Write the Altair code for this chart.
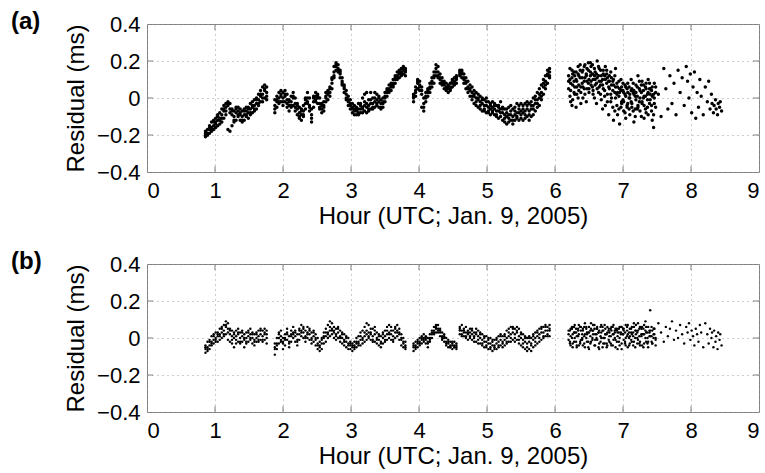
import altair as alt
import pandas as pd

# ---------------- time samples (hour, UTC) ----------------
t_seg1 = [0.86, 0.89, 0.92, 0.95, 0.98, 1.01, 1.04, 1.07, 1.10, 1.13, 1.16, 1.19, 1.22, 1.25, 1.28, 1.31,
          1.34, 1.37, 1.40, 1.43, 1.46, 1.49, 1.52, 1.55, 1.58, 1.61, 1.64, 1.67, 1.70, 1.73, 1.76]
t_seg2 = [1.88, 1.91, 1.94, 1.97, 2.00, 2.03, 2.06, 2.09, 2.12, 2.15, 2.18, 2.21, 2.24, 2.27, 2.30, 2.33,
          2.36, 2.39, 2.42, 2.45, 2.48, 2.51, 2.54, 2.57, 2.60,
          2.63, 2.66, 2.69, 2.72, 2.75, 2.78, 2.81, 2.84, 2.87, 2.90, 2.93, 2.96, 2.99, 3.02, 3.05, 3.08,
          3.11, 3.14, 3.17, 3.20,
          3.23, 3.26, 3.29, 3.32, 3.35, 3.38, 3.41, 3.44, 3.47, 3.50, 3.53, 3.56, 3.59, 3.62, 3.65, 3.68,
          3.71, 3.74, 3.77, 3.80]
t_seg3 = [3.92, 3.95, 3.98, 4.01, 4.04, 4.07, 4.10, 4.13, 4.16, 4.19, 4.22, 4.25, 4.28, 4.31, 4.34, 4.37,
          4.40, 4.43, 4.46, 4.49, 4.52, 4.55]
t_seg4 = [4.60, 4.63, 4.66, 4.69, 4.72, 4.75, 4.78, 4.81, 4.84, 4.87, 4.90, 4.93, 4.96, 4.99, 5.02,
          5.05, 5.08, 5.11, 5.14, 5.17, 5.20, 5.23, 5.26, 5.29, 5.32, 5.35, 5.38, 5.41, 5.44, 5.47,
          5.50, 5.53, 5.56, 5.59, 5.62, 5.65, 5.68, 5.71, 5.74, 5.77, 5.80, 5.83, 5.86, 5.89, 5.92]
t_scat = [6.20, 6.22, 6.23, 6.25, 6.26, 6.28, 6.29, 6.31, 6.32, 6.34, 6.35, 6.37, 6.38,
          6.40, 6.41, 6.43, 6.44, 6.46, 6.47, 6.49, 6.50, 6.52, 6.53, 6.55, 6.56, 6.58, 6.59,
          6.61, 6.62, 6.64, 6.65, 6.67, 6.68, 6.70, 6.71, 6.73, 6.74, 6.76, 6.77, 6.79,
          6.80, 6.82, 6.83, 6.85, 6.86, 6.88, 6.89, 6.91, 6.92, 6.94, 6.95, 6.97, 6.98,
          7.00, 7.01, 7.03, 7.04, 7.06, 7.07, 7.09, 7.10, 7.12, 7.13, 7.15, 7.16, 7.18, 7.19,
          7.21, 7.22, 7.24, 7.25, 7.27, 7.28, 7.30, 7.31, 7.33, 7.34, 7.36, 7.37, 7.39,
          7.40, 7.42, 7.43, 7.45, 7.46, 7.48]
t_sparse = [7.52, 7.56, 7.60, 7.63, 7.66, 7.69, 7.72, 7.75, 7.78, 7.81,
            7.84, 7.87, 7.90, 7.93, 7.95, 7.97, 7.99, 8.01, 8.03, 8.05,
            8.07, 8.09, 8.11, 8.13, 8.15, 8.18, 8.21, 8.24, 8.26, 8.28,
            8.30, 8.31, 8.33, 8.34, 8.36, 8.37, 8.39, 8.40, 8.42, 8.43, 8.45]

# ---------------- panel (a) residuals (ms) ----------------
a1_mid = [-0.20, -0.19, -0.17, -0.16, -0.15, -0.13, -0.12, -0.11, -0.09, -0.07, -0.05, -0.04, -0.06, -0.09, -0.10, -0.08,
          -0.07, -0.09, -0.10, -0.09, -0.07, -0.08, -0.06, -0.05, -0.04, -0.03, -0.01, 0.01, 0.02, 0.04, 0.03]
a1_hi = [-0.18, -0.17, -0.15, -0.13, -0.12, -0.11, -0.09, -0.08, -0.06, -0.04, -0.03, -0.02, -0.03, -0.06, -0.07, -0.05,
         -0.05, -0.06, -0.07, -0.06, -0.05, -0.05, -0.03, -0.02, -0.01, 0.00, 0.02, 0.04, 0.06, 0.07, 0.06]
a1_lo = [-0.21, -0.20, -0.19, -0.18, -0.17, -0.16, -0.15, -0.14, -0.13, -0.11, -0.09, -0.17, -0.18, -0.15, -0.13, -0.12,
         -0.10, -0.12, -0.13, -0.12, -0.10, -0.11, -0.09, -0.08, -0.07, -0.06, -0.04, -0.02, -0.02, 0.00, -0.01]
a1_x = [-0.19, -0.20, -0.16, -0.17, -0.13, -0.14, -0.10, -0.12, -0.11, -0.06, -0.07, -0.03, -0.08, -0.07, -0.12, -0.06,
        -0.09, -0.08, -0.12, -0.07, -0.09, -0.06, -0.08, -0.04, -0.06, -0.01, -0.03, 0.02, 0.00, 0.05, 0.01]

a2_mid = [-0.04, -0.02, 0.00, 0.01, 0.00, 0.02, -0.01, -0.04, -0.02, 0.00, -0.03, -0.06, -0.08, -0.09, -0.07, -0.03,
          0.00, -0.04, -0.09, -0.02, 0.01, 0.00, -0.03, -0.06, -0.04,
          0.01, 0.02, 0.03, 0.08, 0.14, 0.17, 0.16, 0.13, 0.09, 0.05, 0.02, -0.01, -0.03, -0.05, -0.06, -0.07,
          -0.06, -0.06, -0.05, -0.04,
          -0.05, -0.04, -0.03, -0.03, -0.02, -0.01, -0.02, -0.03, -0.02, 0.01, 0.03, 0.05, 0.06, 0.08, 0.10, 0.12,
          0.13, 0.14, 0.15, 0.14]
a2_hi = [-0.01, 0.01, 0.03, 0.04, 0.03, 0.04, 0.02, -0.01, 0.01, 0.03, 0.00, -0.03, -0.05, -0.06, -0.04, 0.00,
         0.03, 0.00, -0.06, 0.01, 0.03, 0.02, 0.00, -0.03, -0.02,
         0.03, 0.04, 0.06, 0.11, 0.17, 0.19, 0.18, 0.15, 0.11, 0.07, 0.04, 0.01, -0.01, -0.03, -0.04, -0.05,
         -0.03, -0.03, 0.00, 0.02,
         0.03, -0.01, 0.03, 0.00, 0.03, 0.02, 0.01, -0.01, 0.00, 0.03, 0.05, 0.07, 0.08, 0.10, 0.12, 0.14,
         0.15, 0.16, 0.17, 0.16]
a2_lo = [-0.08, -0.05, -0.03, -0.02, -0.04, -0.02, -0.05, -0.07, -0.05, -0.04, -0.07, -0.09, -0.11, -0.12, -0.10, -0.06,
         -0.03, -0.07, -0.13, -0.05, -0.02, -0.03, -0.06, -0.08, -0.07,
         -0.02, -0.01, 0.01, 0.05, 0.11, 0.15, 0.14, 0.11, 0.07, 0.03, -0.01, -0.04, -0.06, -0.08, -0.09, -0.09,
         -0.09, -0.08, -0.08, -0.07,
         -0.08, -0.07, -0.06, -0.06, -0.05, -0.04, -0.05, -0.06, -0.05, -0.02, 0.01, 0.03, 0.04, 0.06, 0.08, 0.10,
         0.11, 0.12, 0.13, 0.12]
a2_x = [-0.06, -0.01, -0.02, 0.02, -0.02, 0.01, -0.03, -0.02, -0.04, 0.01, -0.05, -0.04, -0.10, -0.07, -0.09, -0.01,
        -0.02, -0.05, -0.11, 0.00, -0.01, 0.01, -0.05, -0.04, -0.05,
        0.00, 0.03, 0.05, 0.10, 0.12, 0.18, 0.15, 0.14, 0.08, 0.06, 0.00, -0.02, -0.04, -0.06, -0.07, -0.06,
        -0.08, -0.04, -0.06, -0.02,
        -0.03, -0.06, -0.01, -0.05, 0.00, -0.03, 0.00, -0.05, -0.03, 0.00, 0.04, 0.04, 0.07, 0.07, 0.11, 0.11,
        0.14, 0.13, 0.16, 0.15]

a3_mid = [0.00, 0.04, 0.08, 0.07, 0.04, -0.03, 0.01, 0.03, 0.06, 0.08, 0.11, 0.14, 0.14, 0.10, 0.09, 0.07,
          0.06, 0.05, 0.06, 0.08, 0.09, 0.10]
a3_hi = [0.02, 0.06, 0.10, 0.09, 0.06, 0.00, 0.03, 0.05, 0.08, 0.11, 0.14, 0.18, 0.17, 0.13, 0.11, 0.09,
         0.08, 0.07, 0.08, 0.10, 0.11, 0.12]
a3_lo = [-0.02, 0.01, 0.05, 0.04, -0.05, -0.07, -0.02, 0.01, 0.03, 0.06, 0.08, 0.12, 0.11, 0.08, 0.07, 0.05,
         0.04, 0.03, 0.04, 0.06, 0.07, 0.08]
a3_x = [0.01, 0.03, 0.09, 0.06, 0.02, -0.05, 0.00, 0.04, 0.05, 0.09, 0.12, 0.16, 0.12, 0.11, 0.08, 0.08,
        0.05, 0.06, 0.05, 0.09, 0.08, 0.11]

a4_mid = [0.14, 0.13, 0.11, 0.08, 0.06, 0.04, 0.03, 0.01, 0.00, -0.01, -0.02, -0.03, -0.04, -0.04, -0.05,
          -0.06, -0.05, -0.06, -0.07, -0.07, -0.06, -0.08, -0.09, -0.10, -0.09, -0.09, -0.10, -0.09, -0.08, -0.08,
          -0.07, -0.08, -0.07, -0.06, -0.07, -0.06, -0.04, -0.03, -0.01, 0.00, 0.03, 0.06, 0.09, 0.12, 0.14]
a4_hi = [0.15, 0.15, 0.13, 0.11, 0.09, 0.07, 0.06, 0.04, 0.03, 0.02, 0.01, 0.00, -0.01, 0.00, -0.02,
         -0.03, -0.02, -0.03, -0.04, -0.04, -0.02, -0.05, -0.06, -0.06, -0.05, -0.04, -0.06, -0.05, -0.03, -0.04,
         -0.03, -0.04, -0.03, -0.02, -0.03, -0.02, 0.00, 0.01, 0.03, 0.05, 0.07, 0.10, 0.12, 0.15, 0.16]
a4_lo = [0.12, 0.11, 0.08, 0.05, 0.03, 0.01, -0.01, -0.03, -0.04, -0.05, -0.06, -0.07, -0.07, -0.08, -0.08,
         -0.09, -0.08, -0.09, -0.10, -0.11, -0.10, -0.12, -0.13, -0.14, -0.13, -0.12, -0.14, -0.12, -0.11, -0.12,
         -0.11, -0.12, -0.11, -0.10, -0.12, -0.10, -0.09, -0.07, -0.05, -0.04, -0.01, 0.02, 0.05, 0.08, 0.11]
a4_x = [0.13, 0.14, 0.10, 0.09, 0.05, 0.05, 0.01, 0.02, -0.02, 0.00, -0.04, -0.01, -0.06, -0.02, -0.07,
        -0.04, -0.07, -0.04, -0.09, -0.05, -0.08, -0.06, -0.11, -0.08, -0.11, -0.07, -0.12, -0.07, -0.10, -0.06,
        -0.09, -0.06, -0.09, -0.04, -0.09, -0.04, -0.06, -0.01, -0.03, 0.02, 0.01, 0.08, 0.07, 0.13, 0.12]

a_scat1 = [0.05, 0.10, -0.02, 0.15, 0.07, 0.03, 0.12, -0.05, 0.09, 0.17, 0.04, 0.11, 0.06,
           0.14, 0.00, 0.09, 0.18, 0.12, 0.05, 0.15, 0.10, 0.19, 0.07, 0.13, 0.02, 0.16, 0.10,
           -0.03, 0.20, 0.12, 0.06, 0.15, 0.09, -0.06, 0.13, 0.04, 0.17, 0.08, 0.11, -0.09,
           0.05, 0.14, 0.00, 0.09, -0.12, 0.03, 0.16, -0.04, 0.06, 0.01, -0.14, 0.04, -0.02,
           0.08, -0.07, 0.02, -0.11, 0.05, -0.03, 0.00, -0.09, 0.10, -0.05, 0.03, -0.13, 0.01, 0.07,
           -0.06, 0.12, -0.02, 0.04, -0.10, 0.09, 0.00, -0.04, 0.06, -0.08, 0.02, 0.10, -0.03,
           0.05, -0.07, 0.01, -0.16, 0.08, -0.05]
a_scat2 = [0.12, 0.01, 0.08, -0.04, 0.13, 0.09, 0.02, 0.14, 0.06, 0.00, 0.12, 0.18, 0.03,
           0.08, 0.15, 0.05, 0.11, -0.02, 0.16, 0.08, 0.03, 0.12, 0.17, 0.06, 0.10, 0.00, 0.14,
           0.08, 0.11, 0.03, 0.16, 0.07, -0.01, 0.10, 0.05, 0.12, -0.04, 0.15, 0.02, 0.09,
           0.12, -0.02, 0.07, 0.04, 0.10, -0.07, 0.06, 0.02, -0.09, 0.09, 0.03, -0.05, 0.06,
           -0.01, 0.03, -0.08, 0.06, -0.04, 0.08, -0.06, 0.02, -0.02, 0.05, -0.07, 0.04, -0.10, -0.01,
           0.06, -0.04, 0.09, -0.07, 0.03, -0.02, 0.07, -0.11, 0.01, 0.05, -0.05, -0.09, 0.08,
           -0.01, 0.04, -0.12, 0.02, -0.03, 0.06]
a_scat3 = [0.09, 0.16, 0.04, 0.11, -0.01, 0.14, 0.06, 0.10, 0.02, 0.13, 0.07, 0.15, -0.03,
           0.11, 0.06, 0.17, 0.02, 0.13, 0.09, 0.19, 0.05, 0.14, 0.09, 0.18, 0.04, 0.12, 0.07,
           0.13, 0.05, 0.17, 0.09, 0.02, 0.12, 0.07, 0.15, 0.01, 0.10, 0.13, -0.02, 0.06,
           0.09, 0.02, 0.11, -0.05, 0.07, 0.12, 0.00, 0.08, 0.03, -0.06, 0.05, 0.10, -0.03,
           0.04, -0.02, 0.07, 0.01, -0.05, 0.03, 0.06, 0.00, 0.04, -0.03, 0.08, 0.02, -0.06, 0.03,
           0.01, -0.05, 0.05, 0.00, 0.07, -0.03, 0.04, 0.01, -0.06, 0.08, -0.01, 0.03, 0.05,
           0.02, -0.04, 0.06, -0.09, 0.00, 0.03]
a_sparse = [0.02, -0.10, 0.16, 0.05, -0.06, 0.12, -0.03, 0.08, -0.09, 0.15,
            0.03, 0.11, -0.04, 0.17, 0.09, 0.00, 0.13, -0.08, 0.06, 0.14,
            -0.11, 0.03, -0.05, 0.10, 0.01, -0.09, 0.06, -0.02, 0.09, -0.06,
            0.02, -0.03, -0.08, -0.04, -0.01, -0.06, -0.09, -0.03, -0.05, -0.02, -0.07]

# ---------------- panel (b) residuals (ms) ----------------
b1_mid = [-0.06, -0.05, -0.04, -0.02, -0.01, 0.00, 0.01, 0.02, 0.03, 0.04, 0.06, 0.05, 0.02, 0.01, 0.00, 0.01,
          0.02, 0.00, 0.01, -0.01, 0.00, 0.01, 0.02, 0.00, -0.01, 0.00, 0.01, 0.02, 0.01, 0.02, 0.00]
b1_hi = [-0.04, -0.02, -0.01, 0.01, 0.02, 0.03, 0.03, 0.05, 0.06, 0.07, 0.09, 0.08, 0.05, 0.04, 0.03, 0.04,
         0.05, 0.03, 0.04, 0.02, 0.03, 0.04, 0.05, 0.03, 0.02, 0.03, 0.04, 0.05, 0.04, 0.05, 0.04]
b1_lo = [-0.08, -0.07, -0.06, -0.04, -0.03, -0.02, -0.02, -0.01, 0.00, 0.01, 0.02, -0.01, -0.02, -0.03, -0.05, -0.03,
         -0.02, -0.03, -0.02, -0.05, -0.03, -0.02, -0.01, -0.03, -0.04, -0.02, -0.02, -0.01, -0.02, -0.01, -0.03]
b1_x = [-0.05, -0.06, -0.02, -0.03, 0.01, -0.01, 0.02, 0.01, 0.05, 0.02, 0.07, 0.03, 0.04, -0.01, 0.02, -0.01,
        0.03, -0.02, 0.03, 0.00, -0.02, 0.03, 0.00, 0.02, -0.02, 0.02, -0.01, 0.04, -0.01, 0.03, 0.02]

b2_mid = [-0.06, -0.03, 0.00, 0.01, -0.03, -0.01, 0.02, -0.02, 0.01, 0.03, 0.01, -0.01, 0.02, 0.04, 0.03, 0.01,
          0.03, 0.02, 0.00, 0.01, -0.01, -0.03, -0.05, -0.03, 0.00,
          0.01, 0.03, 0.04, 0.05, 0.03, 0.02, 0.03, 0.01, 0.00, -0.01, -0.02, -0.03, -0.04, -0.05, -0.04, -0.03,
          -0.02, -0.01, 0.00, 0.01,
          0.02, 0.03, 0.02, 0.01, 0.02, 0.00, -0.01, -0.02, 0.00, 0.01, 0.02, 0.03, 0.02, 0.01, 0.03, 0.04,
          0.02, -0.01, -0.03, -0.04]
b2_hi = [-0.03, 0.00, 0.03, 0.04, 0.00, 0.02, 0.05, 0.01, 0.04, 0.06, 0.04, 0.02, 0.05, 0.07, 0.06, 0.04,
         0.06, 0.05, 0.03, 0.04, 0.02, 0.00, -0.02, 0.00, 0.03,
         0.05, 0.07, 0.09, 0.08, 0.06, 0.05, 0.06, 0.04, 0.03, 0.02, 0.01, 0.00, -0.02, -0.03, -0.02, 0.00,
         0.01, 0.03, 0.04, 0.06,
         0.08, 0.07, 0.05, 0.05, 0.06, 0.03, 0.02, 0.01, 0.03, 0.04, 0.06, 0.07, 0.06, 0.04, 0.06, 0.07,
         0.05, 0.02, 0.00, -0.02]
b2_lo = [-0.09, -0.06, -0.03, -0.02, -0.06, -0.04, -0.01, -0.05, -0.02, 0.00, -0.02, -0.04, -0.01, 0.01, 0.00, -0.02,
         0.00, -0.01, -0.03, -0.02, -0.04, -0.06, -0.07, -0.06, -0.03,
         -0.02, 0.00, 0.01, 0.02, 0.00, -0.01, 0.00, -0.02, -0.03, -0.04, -0.05, -0.06, -0.06, -0.07, -0.06, -0.05,
         -0.04, -0.04, -0.03, -0.02,
         -0.01, 0.00, -0.01, -0.02, -0.02, -0.03, -0.04, -0.05, -0.03, -0.02, -0.01, 0.00, -0.01, -0.02, 0.00, 0.01,
         -0.01, -0.04, -0.05, -0.06]
b2_x = [-0.05, -0.04, 0.02, -0.01, -0.02, 0.00, 0.03, -0.03, 0.02, 0.02, 0.03, -0.02, 0.04, 0.03, 0.05, 0.00,
        0.02, 0.04, -0.01, 0.03, 0.00, -0.04, -0.04, -0.01, 0.01,
        0.03, 0.02, 0.06, 0.04, 0.04, 0.01, 0.05, 0.00, 0.02, -0.02, 0.00, -0.04, -0.03, -0.04, -0.05, -0.02,
        -0.03, 0.01, -0.01, 0.03,
        0.04, 0.01, 0.03, -0.01, 0.04, -0.01, 0.01, -0.03, 0.02, -0.01, 0.04, 0.02, 0.04, -0.01, 0.05, 0.03,
        0.03, 0.00, -0.02, -0.05]

b3_mid = [-0.05, -0.04, -0.03, -0.02, -0.01, 0.00, -0.01, -0.03, 0.00, 0.02, 0.04, 0.05, 0.05, 0.03, 0.01, 0.00,
          -0.02, -0.03, -0.04, -0.04, -0.04, -0.05]
b3_hi = [-0.03, -0.02, -0.01, 0.00, 0.01, 0.02, 0.01, 0.00, 0.02, 0.04, 0.06, 0.07, 0.07, 0.05, 0.03, 0.02,
         0.00, -0.01, -0.02, -0.02, -0.02, -0.03]
b3_lo = [-0.07, -0.06, -0.05, -0.04, -0.03, -0.02, -0.03, -0.05, -0.02, 0.00, 0.02, 0.03, 0.03, 0.01, -0.01, -0.02,
         -0.04, -0.05, -0.05, -0.06, -0.05, -0.06]
b3_x = [-0.04, -0.05, -0.02, -0.03, 0.00, -0.01, 0.00, -0.02, -0.01, 0.03, 0.03, 0.06, 0.04, 0.04, 0.00, 0.01,
        -0.03, -0.02, -0.05, -0.03, -0.05, -0.04]

b4_mid = [0.04, 0.04, 0.03, 0.03, 0.02, 0.03, 0.02, 0.01, 0.02, 0.01, 0.00, -0.01, -0.02, -0.02, -0.03,
          -0.03, -0.04, -0.04, -0.03, -0.02, -0.01, -0.02, -0.01, 0.00, 0.01, 0.02, 0.03, 0.02, 0.03, 0.01,
          0.00, -0.01, -0.02, -0.03, -0.02, -0.03, -0.01, 0.00, 0.01, 0.02, 0.03, 0.03, 0.04, 0.04, 0.04]
b4_hi = [0.06, 0.07, 0.05, 0.06, 0.04, 0.05, 0.05, 0.03, 0.05, 0.04, 0.03, 0.02, 0.01, 0.01, 0.00,
         0.00, -0.01, -0.01, 0.00, 0.01, 0.02, 0.01, 0.02, 0.04, 0.05, 0.06, 0.06, 0.05, 0.06, 0.05,
         0.03, 0.02, 0.01, 0.00, 0.01, 0.00, 0.02, 0.03, 0.04, 0.05, 0.06, 0.06, 0.07, 0.06, 0.07]
b4_lo = [0.02, 0.01, 0.01, 0.00, -0.01, 0.00, -0.01, -0.02, -0.02, -0.03, -0.03, -0.04, -0.05, -0.05, -0.06,
         -0.06, -0.07, -0.06, -0.06, -0.05, -0.04, -0.05, -0.04, -0.03, -0.02, -0.02, -0.01, -0.02, -0.01, -0.03,
         -0.04, -0.05, -0.06, -0.07, -0.06, -0.07, -0.05, -0.04, -0.03, -0.02, -0.01, 0.00, 0.01, 0.01, 0.01]
b4_x = [0.05, 0.02, 0.04, 0.01, 0.03, 0.01, 0.04, 0.00, 0.03, -0.01, 0.02, -0.03, 0.00, -0.04, -0.01,
        -0.05, -0.02, -0.05, -0.01, -0.04, 0.01, -0.03, 0.01, -0.02, 0.03, 0.00, 0.05, 0.00, 0.04, -0.01,
        0.02, -0.03, 0.00, -0.05, 0.00, -0.04, 0.01, -0.02, 0.03, 0.00, 0.05, 0.01, 0.06, 0.02, 0.05]

b_scat1 = [0.02, -0.03, 0.05, 0.00, -0.05, 0.03, 0.07, -0.02, 0.01, 0.04, -0.04, 0.06, -0.01,
           0.02, 0.05, -0.03, 0.08, 0.00, 0.03, -0.05, 0.06, 0.01, -0.02, 0.04, 0.07, -0.04, 0.02,
           0.05, -0.01, 0.03, -0.06, 0.06, 0.00, 0.04, -0.03, 0.07, 0.02, -0.05, 0.03, 0.05,
           -0.02, 0.01, 0.06, -0.04, 0.02, 0.04, -0.01, 0.05, -0.06, 0.03, 0.00, 0.06, -0.03,
           0.02, 0.04, -0.02, 0.07, 0.01, -0.05, 0.03, 0.05, -0.01, 0.02, -0.04, 0.06, 0.00, 0.04,
           -0.03, 0.08, 0.01, -0.02, 0.05, 0.02, -0.05, 0.07, 0.00, 0.03, -0.03, 0.06, 0.01,
           0.15, -0.02, 0.04, 0.00, 0.05, -0.04]
b_scat2 = [-0.01, 0.04, -0.04, 0.06, 0.02, -0.02, 0.03, 0.05, -0.05, 0.01, 0.07, -0.03, 0.04,
           0.00, -0.04, 0.06, 0.02, 0.05, -0.02, 0.03, -0.06, 0.04, 0.08, -0.01, 0.02, 0.05, -0.04,
           0.00, 0.06, 0.03, -0.03, 0.01, 0.07, -0.05, 0.04, 0.00, 0.02, -0.03, 0.06, -0.01,
           0.03, 0.05, -0.04, 0.02, 0.07, 0.00, -0.05, 0.04, 0.01, -0.02, 0.06, 0.03, -0.06,
           0.02, 0.05, -0.03, 0.00, 0.04, 0.07, -0.04, 0.01, 0.05, -0.02, 0.03, 0.08, -0.05, 0.02,
           0.00, 0.04, -0.03, 0.06, 0.01, -0.04, 0.05, 0.02, 0.09, -0.02, 0.03, -0.05, 0.04,
           0.01, 0.06, -0.03, 0.02, 0.05, -0.01]
b_scat3 = [0.04, -0.02, 0.01, 0.05, -0.03, 0.06, 0.00, 0.03, -0.04, 0.05, 0.02, -0.02, 0.06,
           -0.01, 0.04, 0.01, -0.05, 0.06, 0.02, -0.02, 0.03, -0.03, 0.05, 0.00, 0.04, 0.07, -0.01,
           0.02, 0.05, -0.05, 0.04, -0.02, 0.03, 0.06, 0.00, -0.03, 0.05, 0.02, -0.04, 0.04,
           0.01, -0.03, 0.04, 0.06, -0.01, 0.03, 0.05, -0.02, 0.03, 0.05, -0.04, 0.02, 0.06,
           0.05, -0.01, 0.03, -0.04, 0.06, 0.02, 0.00, -0.03, 0.03, 0.06, 0.01, -0.02, 0.04, 0.07,
           0.03, -0.01, 0.05, -0.04, 0.02, 0.06, 0.02, -0.03, 0.04, 0.06, 0.00, -0.02, 0.03,
           0.04, 0.01, -0.03, 0.05, 0.02, 0.00]
b_sparse = [0.08, 0.03, -0.02, 0.06, 0.01, 0.05, 0.09, -0.01, 0.04, 0.00,
            0.07, 0.02, -0.03, 0.06, 0.03, 0.08, -0.01, 0.04, 0.01, -0.04,
            0.05, 0.02, -0.02, 0.07, 0.03, -0.05, 0.08, 0.02, -0.03, 0.05,
            0.00, 0.03, -0.05, 0.04, -0.02, 0.01, -0.06, 0.03, -0.01, 0.02, -0.04]

x_ticks = [0, 1, 2, 3, 4, 5, 6, 7, 8, 9]
y_ticks = [-0.4, -0.2, 0.0, 0.2, 0.4]


def build(groups):
    rows = []
    for xs, ylists in groups:
        for ys in ylists:
            for x, y in zip(xs, ys):
                rows.append({"t": x, "r": y})
    return pd.DataFrame(rows)


df_a = build([
    (t_seg1, [a1_mid, a1_hi, a1_lo, a1_x]),
    (t_seg2, [a2_mid, a2_hi, a2_lo, a2_x]),
    (t_seg3, [a3_mid, a3_hi, a3_lo, a3_x]),
    (t_seg4, [a4_mid, a4_hi, a4_lo, a4_x]),
    (t_scat, [a_scat1, a_scat2, a_scat3]),
    (t_sparse, [a_sparse]),
])
df_b = build([
    (t_seg1, [b1_mid, b1_hi, b1_lo, b1_x]),
    (t_seg2, [b2_mid, b2_hi, b2_lo, b2_x]),
    (t_seg3, [b3_mid, b3_hi, b3_lo, b3_x]),
    (t_seg4, [b4_mid, b4_hi, b4_lo, b4_x]),
    (t_scat, [b_scat1, b_scat2, b_scat3]),
    (t_sparse, [b_sparse]),
])

W, H = 612, 148
FONT = "Liberation Sans"
FRAME = "#808080"
TICK = 6

y_label_expr = ("datum.value < 0 ? '\u2212' + format(-datum.value, '.1f') : "
                "(datum.value == 0 ? '0' : format(datum.value, '.1f'))")

X_AXIS = alt.Axis(values=x_ticks, format="d", title="Hour (UTC; Jan. 9, 2005)",
                  labelPadding=8, titlePadding=3)
Y_AXIS = alt.Axis(values=y_ticks, labelExpr=y_label_expr, title="Residual (ms)",
                  labelPadding=7, titlePadding=8)


def panel(df, tag, size):
    xs = alt.Scale(domain=[0, 9], nice=False, zero=False)
    ys = alt.Scale(domain=[-0.4, 0.4], nice=False, zero=False)
    pts = alt.Chart(df).mark_circle(size=size, color="black", opacity=1).encode(
        x=alt.X("t:Q", scale=xs, axis=X_AXIS),
        y=alt.Y("r:Q", scale=ys, axis=Y_AXIS),
    )
    xt = pd.DataFrame({"t": x_ticks[1:-1]})
    yt = pd.DataFrame({"r": y_ticks[1:-1]})
    tb = alt.Chart(xt).mark_rule(color=FRAME).encode(
        x=alt.X("t:Q", scale=xs, axis=X_AXIS), y=alt.value(H - TICK), y2=alt.value(H))
    tt = alt.Chart(xt).mark_rule(color=FRAME).encode(
        x=alt.X("t:Q", scale=xs, axis=X_AXIS), y=alt.value(0), y2=alt.value(TICK))
    tl = alt.Chart(yt).mark_rule(color=FRAME).encode(
        y=alt.Y("r:Q", scale=ys, axis=Y_AXIS), x=alt.value(0), x2=alt.value(TICK))
    tr = alt.Chart(yt).mark_rule(color=FRAME).encode(
        y=alt.Y("r:Q", scale=ys, axis=Y_AXIS), x=alt.value(W - TICK), x2=alt.value(W))
    lab = alt.Chart(pd.DataFrame({"s": [tag]})).mark_text(
        align="left", baseline="top", font=FONT, fontSize=24, fontWeight="bold", color="black"
    ).encode(text="s:N", x=alt.value(-136), y=alt.value(-14))
    return alt.layer(pts, tb, tt, tl, tr, lab).properties(width=W, height=H)


chart = alt.vconcat(
    panel(df_a, "(a)", 12),
    panel(df_b, "(b)", 6),
    spacing=20,
).properties(
    padding={"left": 10, "top": 9, "right": 2, "bottom": 0},
    background="white",
).configure_view(
    stroke=FRAME, strokeWidth=1
).configure_axis(
    labelFont=FONT, labelFontSize=22, labelColor="black",
    titleFont=FONT, titleFontSize=24, titleFontWeight="normal", titleColor="black",
    grid=True, gridColor="#9a9a9a", gridDash=[1, 4], gridWidth=1,
    domain=False, tickSize=0, ticks=False,
)

chart.save("out.html", embed_options={"renderer": "svg", "actions": False})
